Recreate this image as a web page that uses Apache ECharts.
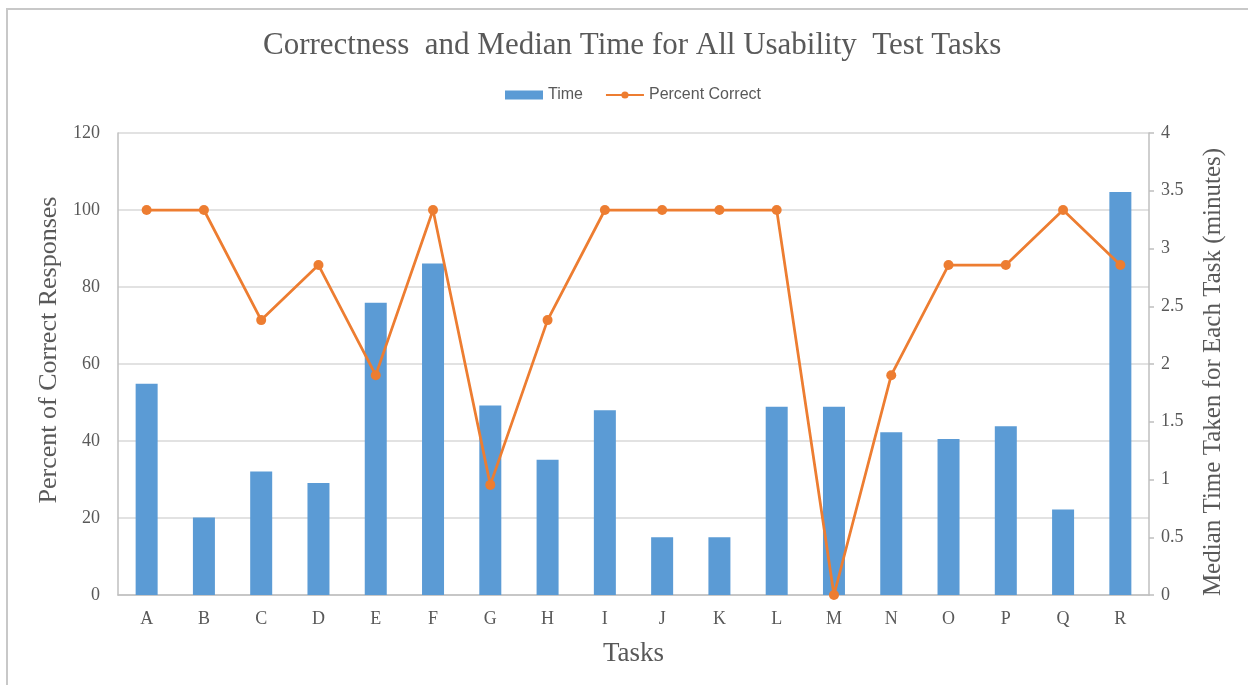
<!DOCTYPE html>
<html>
<head>
<meta charset="utf-8">
<script src="https://cdn.jsdelivr.net/npm/echarts@6/dist/echarts.min.js"></script>
<style>
  html, body { margin: 0; padding: 0; background: #fff; }
  #chart { width: 1248px; height: 685px; }
</style>
</head>
<body>
<div id="chart"></div>
<script>
// data
var tasks = ["A", "B", "C", "D", "E", "F", "G", "H", "I", "J", "K", "L", "M", "N", "O", "P", "Q", "R"];
var medianTime = [1.83, 0.67, 1.07, 0.97, 2.53, 2.87, 1.64, 1.17, 1.6, 0.5, 0.5, 1.63, 1.63, 1.41, 1.35, 1.46, 0.74, 3.49];
var percentCorrect = [100, 100, 71.4, 85.7, 57.1, 100, 28.6, 71.4, 100, 100, 100, 100, 0, 57.1, 85.7, 85.7, 100, 85.7];

var serif = "'Liberation Serif', 'Times New Roman', serif";
var textColor = "#595959";

var chart = echarts.init(document.getElementById("chart"));
chart.setOption({
  animation: false,
  title: {
    text: "Correctness  and Median Time for All Usability  Test Tasks",
    left: 258,
    top: 25,
    textStyle: {
      fontFamily: serif,
      fontSize: 31,
      fontWeight: "normal",
      color: textColor
    }
  },
  legend: {
    top: 82,
    left: 500,
    itemGap: 22,
    itemWidth: 38,
    itemHeight: 9,
    textStyle: { fontFamily: "'Liberation Sans', Arial, sans-serif", fontSize: 16, color: textColor },
    data: [
      { name: "Time", icon: "rect" },
      { name: "Percent Correct" }
    ]
  },
  graphic: [
    {
      type: "rect",
      shape: { x: 7, y: 9, width: 1300, height: 700 },
      style: { fill: "none", stroke: "#c8c8c8", lineWidth: 2 },
      silent: true
    }
  ],
  grid: {
    left: 118,
    right: 99,
    top: 133,
    bottom: 90
  },
  xAxis: {
    type: "category",
    data: tasks,
    name: "Tasks",
    nameLocation: "middle",
    nameGap: 45,
    nameTextStyle: { fontFamily: serif, fontSize: 27, color: textColor },
    axisLine: { lineStyle: { color: "#bfbfbf", width: 1.5 } },
    axisTick: { show: false },
    axisLabel: { fontFamily: serif, fontSize: 18, color: textColor, margin: 15 }
  },
  yAxis: [
    {
      type: "value",
      min: 0,
      max: 120,
      interval: 20,
      name: "Percent of Correct Responses",
      nameLocation: "middle",
      nameGap: 56,
      nameTextStyle: { fontFamily: serif, fontSize: 26, color: textColor, padding: [0, 0, 0, 28] },
      axisLine: { show: true, lineStyle: { color: "#bfbfbf", width: 1.5 } },
      axisTick: { show: false },
      axisLabel: { fontFamily: serif, fontSize: 18, color: textColor, margin: 18 },
      splitLine: { lineStyle: { color: "#d9d9d9", width: 1.5 } }
    },
    {
      type: "value",
      min: 0,
      max: 4,
      interval: 0.5,
      position: "right",
      name: "Median Time Taken for Each Task (minutes)",
      nameLocation: "middle",
      nameGap: 52,
      nameTextStyle: { fontFamily: serif, fontSize: 25, color: textColor, padding: [0, 16, 0, 0] },
      axisLine: { show: true, lineStyle: { color: "#bfbfbf", width: 1.5 } },
      axisTick: { show: true, length: 5, lineStyle: { color: "#bfbfbf", width: 1.5 } },
      axisLabel: { fontFamily: serif, fontSize: 18, color: textColor, margin: 12 },
      splitLine: { show: false }
    }
  ],
  series: [
    {
      name: "Time",
      type: "bar",
      yAxisIndex: 1,
      barWidth: 22,
      itemStyle: { color: "#5b9bd5" },
      data: medianTime
    },
    {
      name: "Percent Correct",
      type: "line",
      yAxisIndex: 0,
      symbol: "circle",
      symbolSize: 10,
      lineStyle: { color: "#ed7d31", width: 2.75 },
      itemStyle: { color: "#ed7d31" },
      data: percentCorrect,
      z: 5
    }
  ]
});
</script>
</body>
</html>
